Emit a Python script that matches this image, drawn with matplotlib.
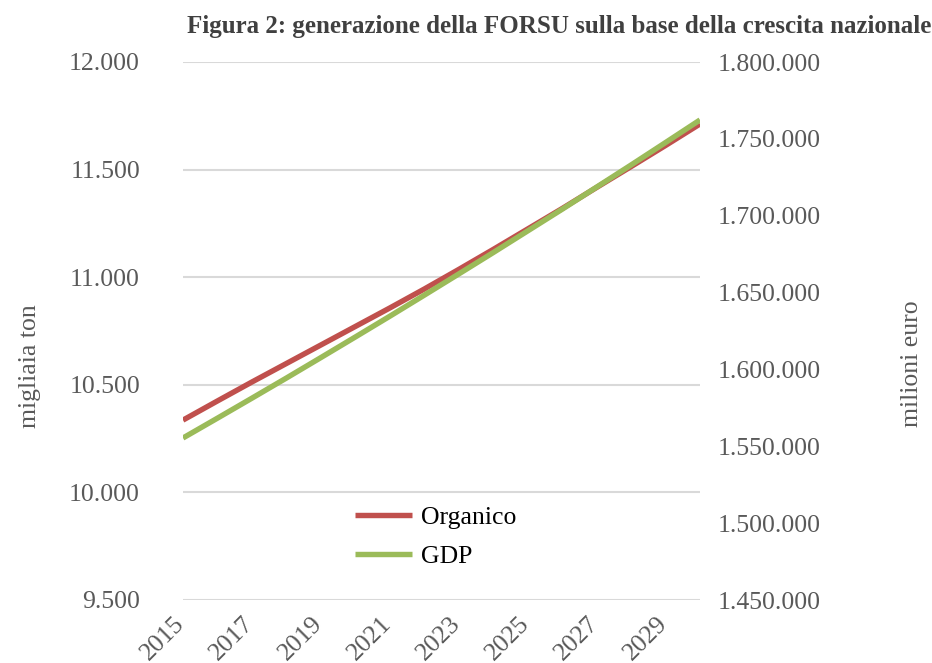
import matplotlib
matplotlib.use("Agg")
import matplotlib.pyplot as plt
from matplotlib.ticker import FuncFormatter, MultipleLocator
import matplotlib.transforms as mtransforms

years = list(range(2015, 2031))
organico = [10336, 10425, 10513, 10599, 10685, 10771, 10857, 10945,
            11036, 11129, 11224, 11319, 11417, 11514, 11612, 11712]
gdp = [1555400, 1568300, 1581300, 1594400, 1607700, 1621100, 1634600, 1648300,
       1662100, 1676000, 1690100, 1704200, 1718600, 1733000, 1747600, 1762300]
xtick_years = list(range(2015, 2030, 2))
title = "Figura 2: generazione della FORSU sulla base della crescita nazionale"

plt.rcParams['font.family'] = ['Liberation Serif', 'DejaVu Serif']

W, H = 932, 663
fig = plt.figure(figsize=(W / 100, H / 100), dpi=100)
L, R, T, B = 183, 700, 62, 600
ax = fig.add_axes([L / W, 1 - B / H, (R - L) / W, (B - T) / H])
ax2 = ax.twinx()

red = '#C0504D'
green = '#9BBB59'
grey_txt = '#595959'

l1, = ax.plot(years, organico, color=red, lw=3.9, solid_capstyle='butt', label='Organico', zorder=3)
l2, = ax2.plot(years, gdp, color=green, lw=3.9, solid_capstyle='butt', label='GDP', zorder=3)

ax.set_xlim(2015, 2030)
ax.set_ylim(9500, 12000)
ax2.set_ylim(1450000, 1800000)
ax.yaxis.set_major_locator(MultipleLocator(500))
ax2.yaxis.set_major_locator(MultipleLocator(50000))

fmt = FuncFormatter(lambda v, p: f"{int(round(v)):,}".replace(",", "."))
ax.yaxis.set_major_formatter(fmt)
ax2.yaxis.set_major_formatter(fmt)

# x tick positions from the axis; labels drawn shifted slightly right like the reference
ax.set_xticks(xtick_years)
ax.set_xticklabels([])
base = mtransforms.blended_transform_factory(ax.transData, ax.transAxes)
shift = mtransforms.ScaledTranslation(6 / 100, -12.5 / 100, fig.dpi_scale_trans)
for y in xtick_years:
    ax.text(y, 0, str(y), transform=base + shift, rotation=45, ha='right', va='top',
            fontsize=18.5, color=grey_txt, clip_on=False)

ax.grid(axis='y', color='#D9D9D9', lw=1.5)
ax.set_axisbelow(True)
for a in (ax, ax2):
    for s in a.spines.values():
        s.set_visible(False)
ax.tick_params(axis='both', length=0, labelsize=18.5, labelcolor=grey_txt)
ax.tick_params(axis='y', pad=31)
ax2.tick_params(axis='y', length=0, labelsize=18.5, labelcolor=grey_txt, pad=13)

fig.text(30 / W, 1 - 366 / H, 'migliaia ton', rotation=90, ha='center', va='center',
         fontsize=18.5, color=grey_txt)
fig.text(912 / W, 1 - 364 / H, 'milioni euro', rotation=90, ha='center', va='center',
         fontsize=18.5, color=grey_txt)
fig.text(187 / W, 1 - 27 / H, title, ha='left', va='center', fontsize=18,
         fontweight='bold', color='#404040')

leg = ax.legend(handles=[l1, l2], loc='center left', bbox_to_anchor=(0.288, 0.117),
                frameon=False, fontsize=18.5, handlelength=2.2, labelspacing=0.6,
                handletextpad=0.35)
for t in leg.get_texts():
    t.set_color('black')

fig.savefig('out.png', dpi=100)
